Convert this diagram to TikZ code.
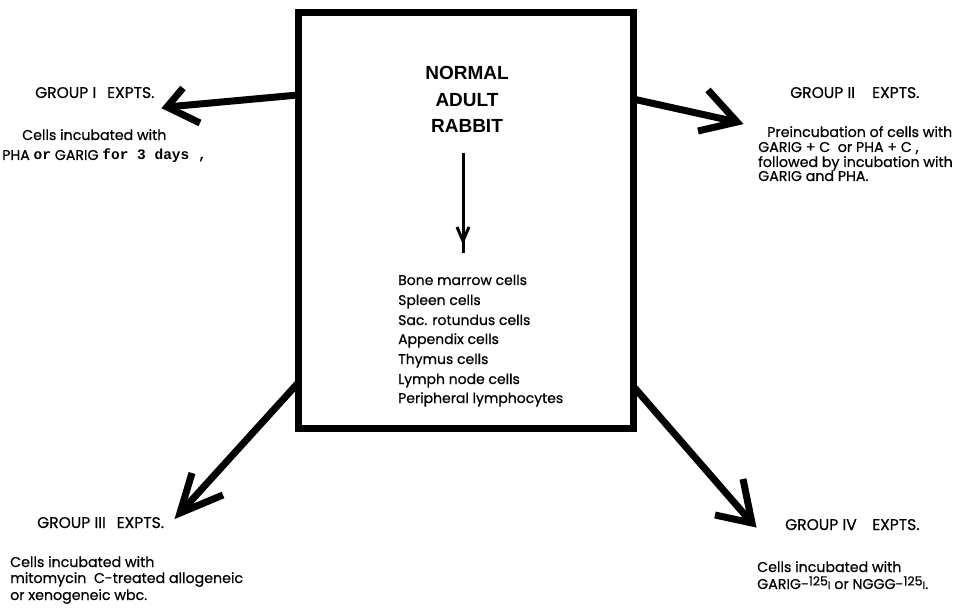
\documentclass[tikz,border=0pt]{standalone}
\usepackage{fontspec}
\setmainfont{Poppins}
\newfontfamily\gfont{Poppins}[FakeBold=0.6]
\newfontfamily\titlefont{Liberation Sans}
\newfontfamily\typefont{Liberation Mono}
\usetikzlibrary{calc}
\begin{document}
\begin{tikzpicture}[x=1pt,y=-1pt,
  heavy/.style={line width=7pt, line cap=butt, line join=miter},
  hd/.style={anchor=base west, inner sep=0pt, font=\gfont\fontsize{15.5}{17}\selectfont},
  bd/.style={anchor=base west, inner sep=0pt, font=\gfont\fontsize{14.2}{16}\selectfont},
  ls/.style={anchor=base west, inner sep=0pt, font=\gfont\fontsize{14}{16}\selectfont},
  tt/.style={anchor=base, inner sep=0pt, font=\titlefont\bfseries\fontsize{19}{22}\selectfont}]
\useasboundingbox (0,0) rectangle (969,612);

% central box
\node[draw, heavy, minimum width=335pt, minimum height=415pt, inner sep=0pt, outer sep=0pt] (box) at (465.5,220.5) {};

% title and list
\node[tt] (n1) at (467,80) {NORMAL};
\node[tt] (n2) at (467,107) {ADULT};
\node[tt] (n3) at (467,133) {RABBIT};
\coordinate (a0) at (463,153);
\coordinate (a1) at (463,253);
\coordinate (a2) at (463,241);
\draw[line width=3pt] (a0) -- (a1);
\draw[line width=3pt, line join=miter] (a2) ++(-6,-14) -- (a2) -- ++(6,-14);

\node[ls] (l1) at (398,285) {Bone marrow cells};
\node[ls] (l2) at (398,305) {Spleen cells};
\node[ls] (l3) at (398,325) {Sac. rotundus cells};
\node[ls] (l4) at (398,344) {Appendix cells};
\node[ls] (l5) at (398,364) {Thymus cells};
\node[ls] (l6) at (398,384) {Lymph node cells};
\node[ls] (l7) at (398,403) {Peripheral lymphocytes};

% anchor heights on the box sides
\coordinate (y1) at (0,95);
\coordinate (y2) at (0,99);
\coordinate (y3) at (0,383);
\coordinate (y4) at (0,386);

% arrow tips
\coordinate (t1) at (167,107);
\coordinate (t2) at (737,122);
\coordinate (t3) at (180,513);
\coordinate (t4) at (752,523);

% group I
\draw[heavy] (box.west |- y1) -- (t1);
\draw[heavy] (t1) ++(16,-19) -- (t1) -- ++(33,16);
% group II
\draw[heavy] (box.east |- y2) -- (t2);
\draw[heavy] (t2) ++(-29,-32) -- (t2) -- ++(-39,9);
% group III
\draw[heavy] (box.west |- y3) -- (t3);
\draw[heavy] (t3) ++(12,-40) -- (t3) -- ++(43,-18);
% group IV
\draw[heavy] (box.east |- y4) -- (t4);
\draw[heavy] (t4) ++(-9,-44) -- (t4) -- ++(-37,-8);

% group I texts
\node[hd] (g1h) at (35,98) {GROUP I\hspace{0.7em}EXPTS.};
\node[bd] (g1a) at (22,140) {Cells incubated with};
\node[bd] (g1b) at (2,160) {PHA {\typefont\bfseries\fontsize{14.5}{16}\selectfont or} GARIG {\typefont\bfseries\fontsize{14.5}{16}\selectfont for 3 days ,}};

% group II texts
\node[hd] (g2h) at (790,98) {GROUP II\hspace{1.1em}EXPTS.};
\node[bd] (g2a) at (767,137) {Preincubation of cells with};
\node[bd] (g2b) at (758,152) {GARIG + C\ \ or PHA + C ,};
\node[bd] (g2c) at (758,167) {followed by incubation with};
\node[bd] (g2d) at (758,181) {GARIG and PHA.};

% group III texts
\node[hd] (g3h) at (37,528) {GROUP III\hspace{0.7em}EXPTS.};
\node[bd] (g3a) at (10,567) {Cells incubated with};
\node[bd] (g3b) at (10,583) {mitomycin\ \ C-treated allogeneic};
\node[bd] (g3c) at (10,600) {or xenogeneic wbc.};

% group IV texts
\node[hd] (g4h) at (785,530) {GROUP IV\hspace{1em}EXPTS.};
\node[bd] (g4a) at (757,572) {Cells incubated with};
\node[bd] (g4b) at (757,589) {GARIG-\raisebox{3.5pt}{\fontsize{12.5}{12.5}\selectfont 125}{\fontsize{11}{11}\selectfont I} or NGGG-\raisebox{3.5pt}{\fontsize{12.5}{12.5}\selectfont 125}{\fontsize{11}{11}\selectfont I}.};
\end{tikzpicture}
\end{document}
